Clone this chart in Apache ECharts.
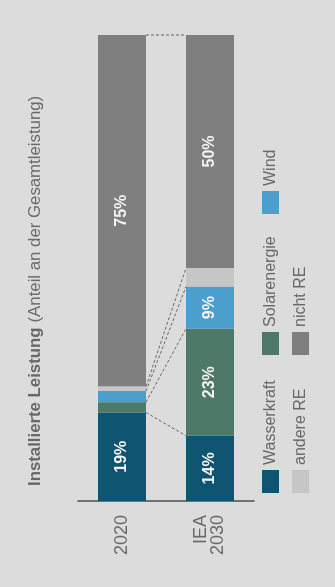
<!DOCTYPE html>
<html>
<head>
<meta charset="utf-8">
<script src="https://cdn.jsdelivr.net/npm/echarts@6/dist/echarts.min.js"></script>
<style>
html,body{margin:0;padding:0;width:335px;height:587px;overflow:hidden;background:#dcdcdc;}
#wrap{position:absolute;left:0;top:0;width:587px;height:335px;transform-origin:0 0;transform:translate(0px,587px) rotate(-90deg);}
</style>
</head>
<body>
<div id="wrap"></div>
<script>
var categories = ['2020', 'IEA\n2030'];
var seriesNames = ['Wasserkraft', 'Solarenergie', 'Wind', 'andere RE', 'nicht RE'];
var wasserkraft = [19, 14];
var solarenergie = [2.2, 23];
var wind = [2.4, 9];
var andereRE = [1.0, 4];
var nichtRE = [75.4, 50];
var colors = ['#0f5470', '#4e7868', '#4a9fcc', '#c6c6c6', '#7f7f7f'];

var values = [wasserkraft, solarenergie, wind, andereRE, nichtRE];
var font = 'Liberation Sans, Arial, Helvetica, sans-serif';

// cumulative boundaries for the connector lines
var connectors = [];
var c0 = 0, c1 = 0;
for (var i = 0; i < values.length; i++) {
  c0 += values[i][0]; c1 += values[i][1];
  if (i !== 4) connectors.push([c0, c1, 0]);
}
connectors.push([100, 100, 0]);

var series = seriesNames.map(function (name, i) {
  return {
    name: name,
    type: 'bar',
    stack: 'total',
    barWidth: 48,
    itemStyle: { color: colors[i] },
    label: {
      show: true,
      position: 'inside',
      color: '#f4f4f4',
      fontWeight: 'bold',
      fontSize: 16,
      fontFamily: font,
      formatter: function (p) { return p.value >= 5 ? Math.round(p.value) + '%' : ''; }
    },
    data: values[i]
  };
});

series.push({
  type: 'custom',
  silent: true,
  z: 5,
  encode: { x: [0, 1], y: 2 },
  data: connectors,
  renderItem: function (params, api) {
    var p0 = api.coord([api.value(0), 0]);
    var p1 = api.coord([api.value(1), 1]);
    return {
      type: 'line',
      shape: { x1: p0[0], y1: p0[1] + 24, x2: p1[0], y2: p1[1] - 24 },
      style: { stroke: '#4a4a4a', lineWidth: 0.8, lineDash: [3, 2] }
    };
  }
});

// legend grid: 3 columns x 2 rows (in the unrotated frame)
var legendCols = [94, 232, 373];
var legendRows = [262, 292];
var legends = seriesNames.map(function (name, i) {
  return {
    data: [name],
    left: legendCols[i % 3],
    top: legendRows[Math.floor(i / 3)],
    padding: 0,
    icon: 'rect',
    itemWidth: 23,
    itemHeight: 17,
    textStyle: { fontSize: 16, color: '#686868', fontFamily: font }
  };
});

var chart = echarts.init(document.getElementById('wrap'));
chart.setOption({
  backgroundColor: '#dcdcdc',
  animation: false,
  title: {
    text: '{b|Installierte Leistung} {n|(Anteil an der Gesamtleistung)}',
    left: 101,
    top: 26,
    padding: 0,
    textStyle: {
      fontWeight: 'normal',
      rich: {
        b: { fontSize: 16.8, fontWeight: 'bold', color: '#686868', fontFamily: font },
        n: { fontSize: 16.8, fontWeight: 'normal', color: '#6a6a6a', fontFamily: font }
      }
    }
  },
  legend: legends,
  grid: { left: 86, right: 35, top: 78, bottom: 81, containLabel: false },
  xAxis: {
    type: 'value',
    min: 0,
    max: 100,
    show: false
  },
  yAxis: {
    type: 'category',
    inverse: true,
    data: categories,
    axisLine: { show: true, lineStyle: { color: '#4d4d4d', width: 1.5 } },
    axisTick: { show: false },
    axisLabel: {
      margin: 14,
      fontSize: 18,
      lineHeight: 17,
      color: '#6a6a6a',
      fontFamily: font,
      align: 'right'
    }
  },
  series: series
});
</script>
</body>
</html>
